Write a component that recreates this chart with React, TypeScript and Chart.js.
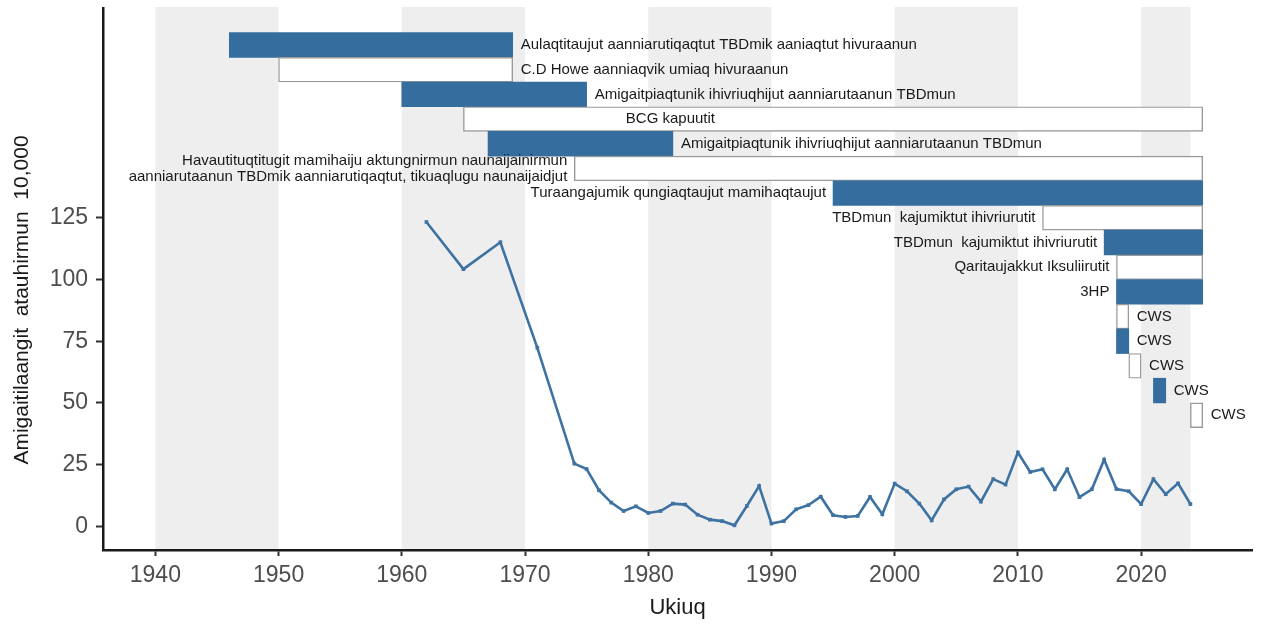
import React, { useEffect, useRef } from 'react';
import { Chart, registerables } from 'chart.js';

Chart.register(...registerables);

// ---- Line series: rate per 10,000 ----
const years = [
  1962, 1965, 1968, 1971, 1974, 1975, 1976, 1977, 1978, 1979,
  1980, 1981, 1982, 1983, 1984, 1985, 1986, 1987, 1988, 1989,
  1990, 1991, 1992, 1993, 1994, 1995, 1996, 1997, 1998, 1999,
  2000, 2001, 2002, 2003, 2004, 2005, 2006, 2007, 2008, 2009,
  2010, 2011, 2012, 2013, 2014, 2015, 2016, 2017, 2018, 2019,
  2020, 2021, 2022, 2023, 2024,
];
const rates = [
  123.3, 104.2, 115.1, 72.3, 25.4, 23.2, 14.6, 9.6, 6.2, 8.1,
  5.4, 6.2, 9.2, 8.8, 4.7, 2.7, 2.1, 0.4, 8.2, 16.3,
  1.1, 2.1, 6.9, 8.6, 12.0, 4.5, 3.8, 4.2, 11.9, 4.9,
  17.3, 14.2, 9.2, 2.4, 10.9, 15.0, 16.1, 10.0, 19.1, 16.9,
  29.9, 22.0, 23.1, 15.0, 23.1, 11.8, 15.0, 27.0, 15.1, 14.2,
  9.0, 19.1, 13.0, 17.4, 9.0,
];

// ---- Programme timeline bars ----
const programLabels: (string | string[])[] = [
  'Aulaqtitaujut aanniarutiqaqtut TBDmik aaniaqtut hivuraanun',
  'C.D Howe aanniaqvik umiaq hivuraanun',
  'Amigaitpiaqtunik ihivriuqhijut aanniarutaanun TBDmun',
  'BCG kapuutit',
  'Amigaitpiaqtunik ihivriuqhijut aanniarutaanun TBDmun',
  [
    'Havautituqtitugit mamihaiju aktungnirmun naunaijainirmun',
    'aanniarutaanun TBDmik aanniarutiqaqtut, tikuaqlugu naunaijaidjut',
  ],
  'Turaangajumik qungiaqtaujut mamihaqtaujut',
  'TBDmun  kajumiktut ihivriurutit',
  'TBDmun  kajumiktut ihivriurutit',
  'Qaritaujakkut Iksuliirutit',
  '3HP',
  'CWS',
  'CWS',
  'CWS',
  'CWS',
  'CWS',
];
const programStart = [1946, 1950, 1960, 1965, 1967, 1974, 1995, 2012, 2017, 2018, 2018, 2018, 2018, 2019, 2021, 2024];
const programEnd = [1969, 1969, 1975, 2025, 1982, 2025, 2025, 2025, 2025, 2025, 2025, 2019, 2019, 2020, 2022, 2025];
const programFilled = [true, false, true, false, true, false, true, false, true, false, true, false, true, false, true, false];
const rowCenters = [195, 185, 175, 165, 155, 145, 135, 125, 115, 105, 95, 85, 75, 65, 55, 45];
const labelSide = ['right', 'right', 'right', 'center', 'right', 'left', 'left', 'left', 'left', 'left', 'left', 'right', 'right', 'right', 'right', 'right'];
const centerLabelYear = 1981.8;

// ---- Background bands and ticks ----
const bandStart = [1940, 1960, 1980, 2000, 2020];
const bandEnd = [1950, 1970, 1990, 2010, 2024];
const xTicks = [1940, 1950, 1960, 1970, 1980, 1990, 2000, 2010, 2020];
const yTicks = [0, 25, 50, 75, 100, 125];

const FONT = "'Liberation Sans', Arial, Helvetica, sans-serif";
const BLUE = '#356d9f';
const LINE_BLUE = '#3d72a3';

export default function App() {
  const ref = useRef<HTMLCanvasElement>(null);

  useEffect(() => {
    const canvas = ref.current;
    if (!canvas) return;

    const bandPlugin = {
      id: 'bands',
      beforeDraw(chart: any) {
        const { ctx, chartArea, scales } = chart;
        const x = scales.x;
        ctx.save();
        ctx.fillStyle = '#eeeeee';
        bandStart.forEach((s, i) => {
          const x0 = x.getPixelForValue(s);
          const x1 = x.getPixelForValue(bandEnd[i]);
          ctx.fillRect(x0, chartArea.top - 1, x1 - x0, chartArea.bottom - chartArea.top + 1);
        });
        ctx.restore();
      },
    };

    const labelPlugin = {
      id: 'barLabels',
      afterDatasetsDraw(chart: any) {
        const { ctx, scales } = chart;
        const meta = chart.getDatasetMeta(0);
        ctx.save();
        ctx.font = `15px ${FONT}`;
        ctx.fillStyle = '#1a1a1a';
        ctx.textBaseline = 'middle';
        meta.data.forEach((el: any, i: number) => {
          const left = Math.min(el.x, el.base);
          const right = Math.max(el.x, el.base);
          const yc = el.y;
          const side = labelSide[i];
          const lbl = programLabels[i];
          const lines = Array.isArray(lbl) ? lbl : [lbl];
          const lh = 16;
          const y0 = yc - ((lines.length - 1) * lh) / 2;
          let tx: number;
          if (side === 'right') {
            ctx.textAlign = 'left';
            tx = right + 8;
          } else if (side === 'left') {
            ctx.textAlign = 'right';
            tx = left - 7;
          } else {
            ctx.textAlign = 'center';
            tx = scales.x.getPixelForValue(centerLabelYear);
          }
          lines.forEach((t, k) => ctx.fillText(t, tx, y0 + k * lh));
        });
        ctx.restore();
      },
    };

    const yTitlePlugin = {
      id: 'yTitle',
      afterDraw(chart: any) {
        const { ctx } = chart;
        ctx.save();
        ctx.translate(28, 300);
        ctx.rotate(-Math.PI / 2);
        ctx.font = `21px ${FONT}`;
        ctx.fillStyle = '#1a1a1a';
        ctx.textAlign = 'center';
        ctx.textBaseline = 'alphabetic';
        ctx.fillText('Amigaitilaangit  atauhirmun  10,000', 0, 0);
        ctx.restore();
      },
    };

    const chart = new Chart(canvas, {
      type: 'line',
      data: {
        datasets: [
          {
            type: 'bar',
            indexAxis: 'y',
            data: programStart.map((s, i) => ({ x: [s, programEnd[i]], y: rowCenters[i] })),
            backgroundColor: programFilled.map((f) => (f ? BLUE : '#ffffff')),
            borderColor: programFilled.map((f) => (f ? BLUE : '#9a9a9a')),
            borderWidth: programFilled.map((f) => (f ? 0 : 1.4)),
            borderSkipped: false,
            barPercentage: 1,
            categoryPercentage: 1,
            grouped: false,
            order: 2,
          } as any,
          {
            type: 'line',
            data: years.map((yr, i) => ({ x: yr, y: rates[i] })),
            borderColor: LINE_BLUE,
            backgroundColor: LINE_BLUE,
            borderWidth: 2.6,
            pointStyle: 'rect',
            pointRadius: 2.6,
            pointBorderWidth: 0,
            pointBackgroundColor: LINE_BLUE,
            tension: 0,
            fill: false,
            order: 1,
          } as any,
        ],
      },
      options: {
        animation: false,
        responsive: false,
        maintainAspectRatio: false,
        devicePixelRatio: 1,
        layout: { padding: { left: 0, right: 10, top: 8, bottom: 0 } },
        plugins: {
          legend: { display: false },
          tooltip: { enabled: false },
        },
        scales: {
          x: {
            type: 'linear',
            min: 1935.75,
            max: 2029,
            offset: false,
            beginAtZero: false,
            grid: {
              display: true,
              offset: false,
              drawOnChartArea: false,
              drawTicks: true,
              tickLength: 6,
              tickWidth: 2,
              tickColor: '#333333',
            },
            border: { display: true, color: '#1a1a1a', width: 2.5, z: 1 },
            ticks: {
              autoSkip: false,
              maxRotation: 0,
              minRotation: 0,
              padding: 6,
              color: '#4d4d4d',
              font: { family: FONT, size: 23 },
              callback: (v: any) => String(v),
            },
            afterBuildTicks: (scale: any) => {
              scale.ticks = xTicks.map((v) => ({ value: v }));
            },
            afterFit: (scale: any) => {
              scale.height = 75;
              scale.paddingLeft = 0;
              scale.paddingRight = 0;
              scale.paddingTop = 0;
              scale.paddingBottom = 0;
            },
            title: {
              display: true,
              text: 'Ukiuq',
              color: '#1a1a1a',
              font: { family: FONT, size: 22 },
              padding: { top: 0, bottom: 4 },
            },
          },
          y: {
            type: 'linear',
            min: -9.6,
            max: 210,
            offset: false,
            beginAtZero: false,
            grid: {
              display: true,
              offset: false,
              drawOnChartArea: false,
              drawTicks: true,
              tickLength: 7,
              tickWidth: 2,
              tickColor: '#333333',
            },
            border: { display: true, color: '#1a1a1a', width: 2.5, z: 1 },
            ticks: {
              autoSkip: false,
              padding: 8,
              color: '#4d4d4d',
              font: { family: FONT, size: 23 },
              callback: (v: any) => String(v),
            },
            afterBuildTicks: (scale: any) => {
              scale.ticks = yTicks.map((v) => ({ value: v }));
            },
            afterFit: (scale: any) => {
              scale.width = 103;
              scale.paddingLeft = 0;
              scale.paddingRight = 0;
              scale.paddingTop = 0;
              scale.paddingBottom = 0;
            },
            title: { display: false },
          },
        },
      } as any,
      plugins: [bandPlugin, labelPlugin, yTitlePlugin],
    });

    return () => chart.destroy();
  }, []);

  return (
    <div style={{ position: 'fixed', left: 0, top: 0, width: 1262, height: 625, background: '#ffffff' }}>
      <canvas ref={ref} width={1262} height={625} style={{ display: 'block' }} />
    </div>
  );
}
